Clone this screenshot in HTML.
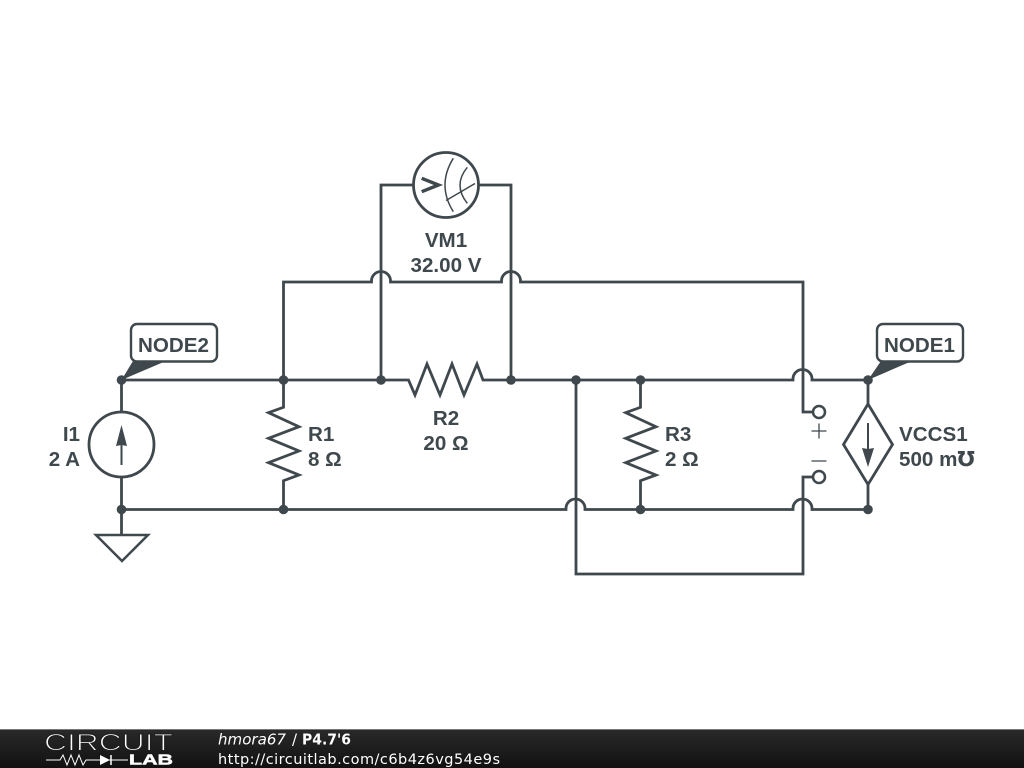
<!DOCTYPE html>
<html>
<head>
<meta charset="utf-8">
<style>
html,body{margin:0;padding:0;background:#fff;width:1024px;height:768px;overflow:hidden}
svg{display:block}
.w{fill:none;stroke:#3f484d;stroke-width:2.800}
.t{stroke:#3f484d;stroke-width:2.500}
.d{fill:#3f484d}
text.l{font-family:"Liberation Sans","DejaVu Sans",sans-serif;font-weight:bold;font-size:20.600px;fill:#3f484d}
text.f{font-family:"DejaVu Sans","Liberation Sans",sans-serif;font-size:14.500px;fill:#fff}
</style>
</head>
<body>
<svg width="1024" height="768" viewBox="0 0 1024 768" xmlns="http://www.w3.org/2000/svg">
<defs>
<linearGradient id="g" x1="0" y1="0" x2="0" y2="1">
<stop offset="0" stop-color="#2a2a2a"/><stop offset="1" stop-color="#111"/>
</linearGradient>
</defs>
<rect width="1024" height="768" fill="#fff"/>

<!-- wires -->
<path class="w" d="M121.500 380H408.500L415 395L427 364L440 395L452 364L464 395L477 364L483 380H793V379A9.500 9.500 0 0 1 812 379V380H868"/>
<path class="w" d="M121.500 509.500H566V508.500A9.500 9.500 0 0 1 585 508.500V509.500H793V508.500A9.500 9.500 0 0 1 812 508.500V509.500H868"/>
<path class="w" d="M283.500 380V282H371.500V281A9.500 9.500 0 0 1 390.500 281V282H501.500V281A9.500 9.500 0 0 1 520.500 281V282H803V412H813"/>
<path class="w" d="M381 380V185H413M479 185H511V380"/>
<path class="w" d="M576 380V574H803V477H813"/>
<path class="w" d="M121.500 380V412M121.500 477V535"/>
<path class="w" d="M283.500 380V407.300L268.500 412.700L299 426.700L268.500 438.300L299 451L268.500 462.700L299 475L283.500 480.700V509.500"/>
<path class="w" d="M640.500 380V407.300L625.700 412.700L656 426.700L625.700 438.300L656 451L625.700 462.700L656 475L640.500 480.700V509.500"/>
<path class="w" d="M868 380V404M868 484V509.500"/>

<!-- junctions -->
<g class="d">
<circle cx="121.500" cy="380" r="4.800"/><circle cx="283.500" cy="380" r="4.800"/><circle cx="381" cy="380" r="4.800"/>
<circle cx="511" cy="380" r="4.800"/><circle cx="576" cy="380" r="4.800"/><circle cx="640.500" cy="380" r="4.800"/>
<circle cx="868" cy="380" r="4.800"/><circle cx="121.500" cy="509.500" r="4.800"/><circle cx="283.500" cy="509.500" r="4.800"/>
<circle cx="640.500" cy="509.500" r="4.800"/><circle cx="868" cy="509.500" r="4.800"/>
</g>

<!-- voltmeter -->
<circle class="w" cx="446" cy="185" r="32.500"/>
<path fill="none" stroke="#3f484d" stroke-width="3.400" d="M421.700 178.300L438.500 185L421.700 191.700"/>
<path fill="none" stroke="#3f484d" stroke-width="1.500" d="M453.300 158.300Q436.700 185 453.300 211.700M467.300 167.300Q452.700 185 467.300 203.300M446 200.500L475 183.500"/>

<!-- current source -->
<circle class="w" cx="121.500" cy="444.500" r="32.500"/>
<path class="d" d="M121.500 425L127 446L121.500 445L116 446Z"/>
<path fill="none" stroke="#3f484d" stroke-width="2" d="M121.500 440V465"/>

<!-- ground -->
<path class="t" fill="none" d="M96 535H148L122 561Z"/>

<!-- VCCS -->
<path class="w" d="M868 404L843.500 444.500L868 484.500L892.500 444.500Z"/>
<path class="d" d="M862 448L868 449L874 448L868 467Z"/>
<path fill="none" stroke="#3f484d" stroke-width="2" d="M868 423V452"/>

<!-- control terminals -->
<circle class="t" cx="819" cy="412" r="6" fill="#fff"/>
<circle class="t" cx="819" cy="477" r="6" fill="#fff"/>
<path fill="none" stroke="#3f484d" stroke-width="1.300" d="M811.500 431H826.500M819 423.500V438.500M811.500 461H826.500"/>

<!-- node labels -->
<path class="d" d="M121.500 380L133 361H166Z"/>
<rect x="131" y="324" width="86" height="37.500" rx="6" fill="#fff" stroke="#3f484d" stroke-width="2.400"/>
<text class="l" x="173.500" y="352" text-anchor="middle">NODE2</text>
<path class="d" d="M868 380L881 361H912Z"/>
<rect x="877" y="324" width="86" height="37.500" rx="6" fill="#fff" stroke="#3f484d" stroke-width="2.400"/>
<text class="l" x="919.500" y="352" text-anchor="middle">NODE1</text>

<!-- component labels -->
<text class="l" x="446" y="247" text-anchor="middle">VM1</text>
<text class="l" x="446" y="272" text-anchor="middle">32.00 V</text>
<text class="l" x="80" y="441" text-anchor="end">I1</text>
<text class="l" x="80" y="466" text-anchor="end">2 A</text>
<text class="l" x="308" y="441">R1</text>
<text class="l" x="308" y="466">8 Ω</text>
<text class="l" x="446" y="425" text-anchor="middle">R2</text>
<text class="l" x="446" y="450" text-anchor="middle">20 Ω</text>
<text class="l" x="665" y="441">R3</text>
<text class="l" x="665" y="466">2 Ω</text>
<text class="l" x="899" y="441">VCCS1</text>
<text class="l" x="899" y="466">500 m℧</text>

<!-- footer -->
<rect x="0" y="729" width="1024" height="39" fill="url(#g)"/>
<rect x="0" y="729" width="1024" height="1" fill="#777"/>
<text x="44" y="750.500" font-family="Liberation Sans, sans-serif" font-size="24" fill="#fff" stroke="#1f1f1f" stroke-width="1.100" textLength="129" lengthAdjust="spacingAndGlyphs">CIRCUIT</text>
<path fill="none" stroke="#fff" stroke-width="1" d="M46 760H60L63 755L67 765L71 755L75 765L79 755L83 765L86 760H128"/>
<path fill="#fff" d="M100 755L110 760L100 765Z"/>
<path stroke="#fff" stroke-width="1.500" d="M111 755V765"/>
<text x="129" y="764.500" font-family="Liberation Sans, sans-serif" font-weight="bold" font-size="15" fill="#fff" stroke="#fff" stroke-width="0.500" textLength="44" lengthAdjust="spacingAndGlyphs">LAB</text>
<text class="f" x="218" y="744.500" style="font-size:15px" textLength="68" lengthAdjust="spacingAndGlyphs" font-style="italic">hmora67</text>
<text class="f" x="292" y="744.500" style="font-size:15px">/</text>
<text class="f" x="302" y="744.500" style="font-size:15px" font-weight="bold" textLength="49" lengthAdjust="spacingAndGlyphs">P4.7'6</text>
<text class="f" x="218" y="764" textLength="282">http://circuitlab.com/c6b4z6vg54e9s</text>
</svg>
</body>
</html>
